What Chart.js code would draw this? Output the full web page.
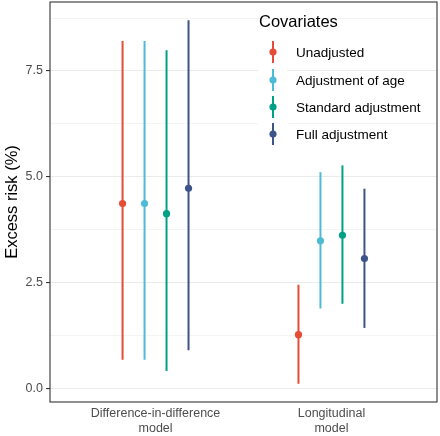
<!DOCTYPE html>
<html>
<head>
<meta charset="utf-8">
<script src="https://cdn.jsdelivr.net/npm/chart.js@4/dist/chart.umd.min.js"></script>
<style>
  html, body { margin: 0; padding: 0; background: #ffffff; }
  #wrap { width: 440px; height: 436px; }
</style>
</head>
<body>
<div id="wrap"><canvas id="c" width="440" height="436"></canvas></div>
<script>
// ---------------- data ----------------
const categories = [['Difference-in-difference', 'model'], ['Longitudinal', 'model']];
const seriesNames = ['Unadjusted', 'Adjustment of age', 'Standard adjustment', 'Full adjustment'];
const seriesColors = ['#E64B35', '#4DBBD5', '#00A087', '#3C5488'];

const unadjustedEst  = [4.37, 1.27];
const unadjustedLow  = [0.68, 0.11];
const unadjustedHigh = [8.21, 2.45];

const ageEst  = [4.37, 3.49];
const ageLow  = [0.68, 1.89];
const ageHigh = [8.21, 5.11];

const standardEst  = [4.13, 3.62];
const standardLow  = [0.41, 2.00];
const standardHigh = [7.99, 5.27];

const fullEst  = [4.73, 3.07];
const fullLow  = [0.90, 1.43];
const fullHigh = [8.70, 4.72];

const yMajorTicks = [0, 2.5, 5, 7.5];
const yMinorTicks = [1.25, 3.75, 6.25, 8.75];

// ---------------- build ----------------
const estimates = [unadjustedEst, ageEst, standardEst, fullEst];
const lows = [unadjustedLow, ageLow, standardLow, fullLow];
const highs = [unadjustedHigh, ageHigh, standardHigh, fullHigh];
const dodgeWidth = 0.5;
const nGroups = seriesNames.length;
const offsetOf = g => -dodgeWidth / 2 + dodgeWidth / nGroups * (g + 0.5);

const FONT = "'Liberation Sans', Arial, sans-serif";

const datasets = seriesNames.map((name, g) => ({
  label: name,
  data: categories.map((c, i) => ({ x: i + 1 + offsetOf(g), y: estimates[g][i], lo: lows[g][i], hi: highs[g][i] })),
  backgroundColor: seriesColors[g],
  borderColor: seriesColors[g],
  pointRadius: 3.6,
  pointHoverRadius: 3.6,
  borderWidth: 0
}));

const rangePlugin = {
  id: 'ranges',
  beforeDatasetsDraw(chart) {
    const ctx = chart.ctx;
    const xs = chart.scales.x, ys = chart.scales.y;
    ctx.save();
    chart.data.datasets.forEach(ds => {
      ds.data.forEach(p => {
        const px = xs.getPixelForValue(p.x);
        ctx.beginPath();
        ctx.strokeStyle = ds.borderColor;
        ctx.lineWidth = 2;
        ctx.moveTo(px, ys.getPixelForValue(p.lo));
        ctx.lineTo(px, ys.getPixelForValue(p.hi));
        ctx.stroke();
      });
    });
    ctx.restore();
  }
};

const framePlugin = {
  id: 'frame',
  afterDraw(chart) {
    const { ctx, chartArea: a } = chart;
    ctx.save();
    // legend
    ctx.fillStyle = '#000';
    ctx.font = '16.5px ' + FONT;
    ctx.textBaseline = 'middle';
    ctx.textAlign = 'left';
    ctx.fillText('Covariates', 259, 22);
    const rows = [52, 80, 107, 134];
    seriesNames.forEach((name, g) => {
      const cy = rows[g];
      ctx.fillStyle = '#ffffff';
      ctx.fillRect(258, cy - 13, 29, 27);
      ctx.strokeStyle = seriesColors[g];
      ctx.lineWidth = 2;
      ctx.beginPath();
      ctx.moveTo(273, cy - 11);
      ctx.lineTo(273, cy + 11);
      ctx.stroke();
      ctx.fillStyle = seriesColors[g];
      ctx.beginPath();
      ctx.arc(273, cy, 3.6, 0, Math.PI * 2);
      ctx.fill();
      ctx.fillStyle = '#000';
      ctx.font = '13.5px ' + FONT;
      ctx.fillText(name, 296, cy + 1);
    });
    // panel border
    ctx.strokeStyle = '#333333';
    ctx.lineWidth = 1.1;
    ctx.strokeRect(a.left, a.top, a.right - a.left, a.bottom - a.top);
    ctx.restore();
  }
};

new Chart(document.getElementById('c'), {
  type: 'scatter',
  data: { datasets },
  plugins: [rangePlugin, framePlugin],
  options: {
    responsive: false,
    devicePixelRatio: 1,
    animation: false,
    events: [],
    layout: { padding: { left: 0, right: 3, top: 2, bottom: 0 }, autoPadding: false },
    plugins: { legend: { display: false }, tooltip: { enabled: false } },
    scales: {
      x: {
        type: 'linear',
        min: 0.4,
        max: 2.6,
        afterBuildTicks: s => { s.ticks = categories.map((c, i) => ({ value: i + 1 })); },
        ticks: {
          callback: v => categories[Math.round(v) - 1],
          color: '#4D4D4D',
          font: { size: 12.5, family: FONT, lineHeight: 1.2 },
          padding: 4,
          maxRotation: 0,
          autoSkip: false
        },
        grid: { display: false, drawTicks: false },
        border: { display: false },
        afterFit: s => { s.height = 34; s.paddingLeft = 0; s.paddingRight = 0; }
      },
      y: {
        min: -0.32,
        max: 9.13,
        afterBuildTicks: s => {
          s.ticks = yMajorTicks.concat(yMinorTicks).sort((a, b) => a - b).map(v => ({ value: v }));
        },
        ticks: {
          callback: v => yMajorTicks.includes(v) ? v.toFixed(1) : '',
          color: '#4D4D4D',
          font: { size: 12.5, family: FONT },
          padding: 3,
          autoSkip: false
        },
        grid: {
          color: '#EBEBEB',
          lineWidth: c => yMajorTicks.includes(c.tick.value) ? 1.1 : 0.55,
          tickColor: c => yMajorTicks.includes(c.tick.value) ? '#333333' : 'rgba(0,0,0,0)',
          tickLength: 4,
          drawTicks: true
        },
        border: { display: false },
        title: {
          display: true,
          text: 'Excess risk (%)',
          color: '#000',
          font: { size: 16.5, family: FONT },
          padding: { top: 3, bottom: 0 }
        },
        afterFit: s => { s.width = 50; s.paddingTop = 0; s.paddingBottom = 0; }
      }
    }
  }
});
</script>
</body>
</html>
